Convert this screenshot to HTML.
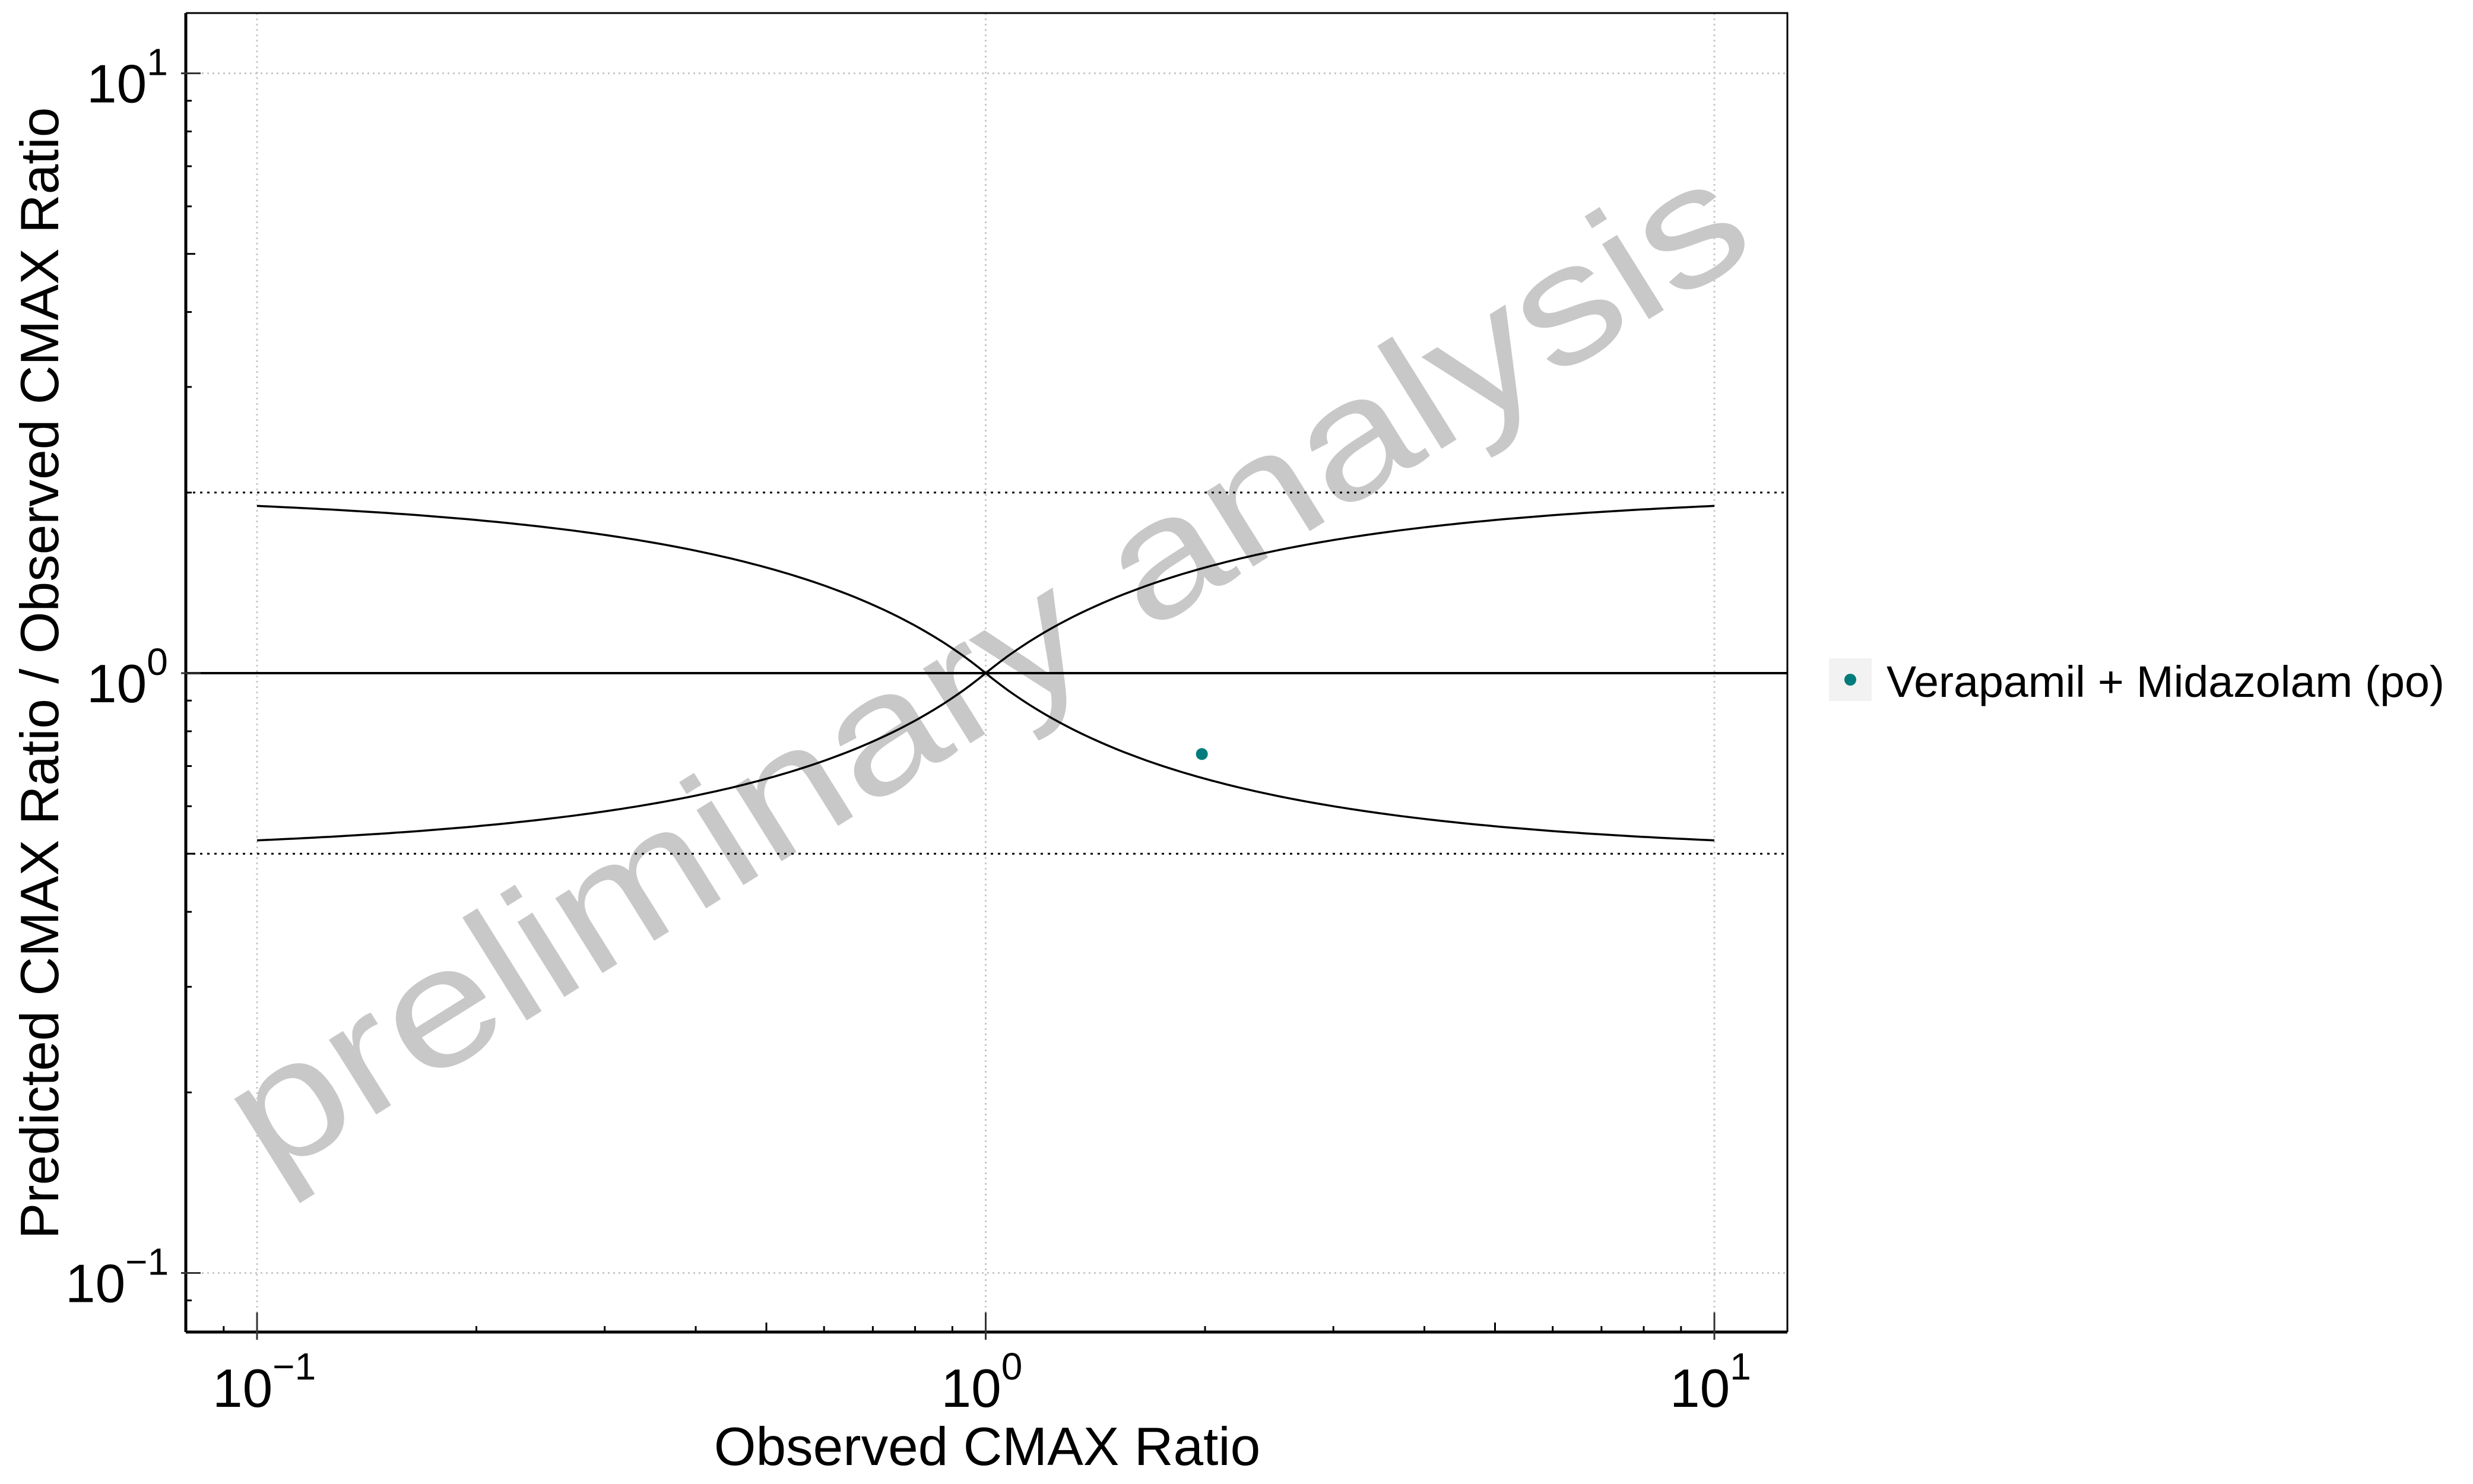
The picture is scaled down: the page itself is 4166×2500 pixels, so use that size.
<!DOCTYPE html>
<html><head><meta charset="utf-8"><style>
html,body{margin:0;padding:0;background:#fff}
svg{display:block}
text{font-family:"Liberation Sans",Arial,sans-serif}
</style></head><body>
<svg id="chart" width="4166" height="2500" viewBox="0 0 4166 2500" xmlns="http://www.w3.org/2000/svg">
<rect width="4166" height="2500" fill="#fff"/>
<g id="grid"></g>
<text x="0" y="0" font-size="282" fill="#c8c8c8" text-anchor="middle" transform="translate(1710,1205) rotate(-32)" textLength="2960" lengthAdjust="spacingAndGlyphs">preliminary analysis</text>
<g id="refs"></g>
<g id="axes"></g>
<g id="pts"></g>
<text x="1663" y="2468" font-size="91" text-anchor="middle">Observed CMAX Ratio</text>
<text x="0" y="0" font-size="91" text-anchor="middle" transform="translate(98,1134) rotate(-90)">Predicted CMAX Ratio / Observed CMAX Ratio</text>
<g>
<rect x="3081" y="1109" width="72" height="72" fill="#f2f2f2"/>
<circle cx="3117" cy="1145" r="10" fill="#007b7b"/>
<text x="3178" y="1174" font-size="74" textLength="940" lengthAdjust="spacingAndGlyphs">Verapamil + Midazolam (po)</text>
</g>
</svg>
<script>
const xTickValues=[0.1,1,10];
const xTickExps=["−1","0","1"];
const yTickValues=[0.1,1,10];
const yTickExps=["−1","0","1"];
const pointX=[1.98];
const pointY=[0.733];
const guestDelta=1;
const limitLines=[2,0.5];

const NS="http://www.w3.org/2000/svg";
const L=313,R=3011,T=22,B=2244;
const X0=433, XD=1227.5;
const Y1=1134, YD=1010.5;
function xs(v){return X0+(Math.log10(v)+1)*XD;}
function ys(v){return Y1-Math.log10(v)*YD;}
function mk(tag,attrs,parent){const e=document.createElementNS(NS,tag);for(const k in attrs)e.setAttribute(k,attrs[k]);parent.appendChild(e);return e;}
const grid=document.getElementById('grid'),axes=document.getElementById('axes'),refs=document.getElementById('refs'),pts=document.getElementById('pts');

xTickValues.forEach(v=>{const l=mk('line',{x1:xs(v),x2:xs(v),y1:T,y2:B,stroke:'#c8c8c8','stroke-width':3,'stroke-dasharray':'3 6'},grid);

});
yTickValues.forEach(v=>{const l=mk('line',{x1:L,x2:R,y1:ys(v),y2:ys(v),stroke:'#c8c8c8','stroke-width':3,'stroke-dasharray':'3 6'},grid);

});

limitLines.forEach(v=>{const l=mk('line',{x1:L,x2:R,y1:ys(v),y2:ys(v),stroke:'#000','stroke-width':3,'stroke-dasharray':'4 8'},refs);

});
const idl=mk('line',{x1:L,x2:R,y1:ys(1),y2:ys(1),stroke:'#000','stroke-width':4},refs);


function guest(r){const rr=r>=1?r:1/r;return (guestDelta+2*(rr-1))/rr;}
let up='',lo='';
for(let i=0;i<=200;i++){const r=Math.pow(10,-1+i*0.01);const g=guest(r);
up+=(i?'L':'M')+xs(r).toFixed(1)+','+ys(g).toFixed(1);
lo+=(i?'L':'M')+xs(r).toFixed(1)+','+ys(1/g).toFixed(1);}
const gu=mk('path',{d:up,fill:'none',stroke:'#000','stroke-width':3.5},refs);


const gl=mk('path',{d:lo,fill:'none',stroke:'#000','stroke-width':3.5},refs);



const fr=mk('path',{d:`M${L},${T}H${R}V${B}`,fill:'none',stroke:'#000','stroke-width':3},axes);


const xa=mk('line',{x1:L,x2:R,y1:B,y2:B,stroke:'#000','stroke-width':5},axes);


const ya=mk('line',{x1:L,x2:L,y1:T,y2:B,stroke:'#000','stroke-width':5},axes);



for(let d=-2;d<=1;d++){for(let m=2;m<=9;m++){const v=m*Math.pow(10,d);const len=m===5?16:10;
const x=xs(v);if(x>L+2&&x<R){const t=mk('line',{x1:x,x2:x,y1:B,y2:B-len,stroke:'#000','stroke-width':3},axes);

}
const y=ys(v);if(y>T&&y<B-2){const t=mk('line',{x1:L,x2:L+len,y1:y,y2:y,stroke:'#000','stroke-width':3},axes);

}}}

xTickValues.forEach((v,i)=>{const x=xs(v);
const t=mk('line',{x1:x,x2:x,y1:B-33,y2:B+13,stroke:'#333','stroke-width':3},axes);


const tx=mk('text',{x:x-75,y:2370,'font-size':91},axes);


tx.textContent='10';
const s=mk('tspan',{dy:-46,'font-size':64},tx);s.textContent=xTickExps[i];});
yTickValues.forEach((v,i)=>{const y=ys(v);
const t=mk('line',{x1:L-8,x2:L+25,y1:y,y2:y,stroke:'#333','stroke-width':3},axes);


const lx=yTickExps[i].length>1?110:146;
const tx=mk('text',{x:lx,y:y+49,'font-size':91},axes);


tx.textContent='10';
const s=mk('tspan',{dy:-46,'font-size':64},tx);s.textContent=yTickExps[i];});

pointX.forEach((v,i)=>{const c=mk('circle',{cx:xs(v),cy:ys(pointY[i]),r:10,fill:'#007b7b'},pts);

});
</script>
</body></html>
